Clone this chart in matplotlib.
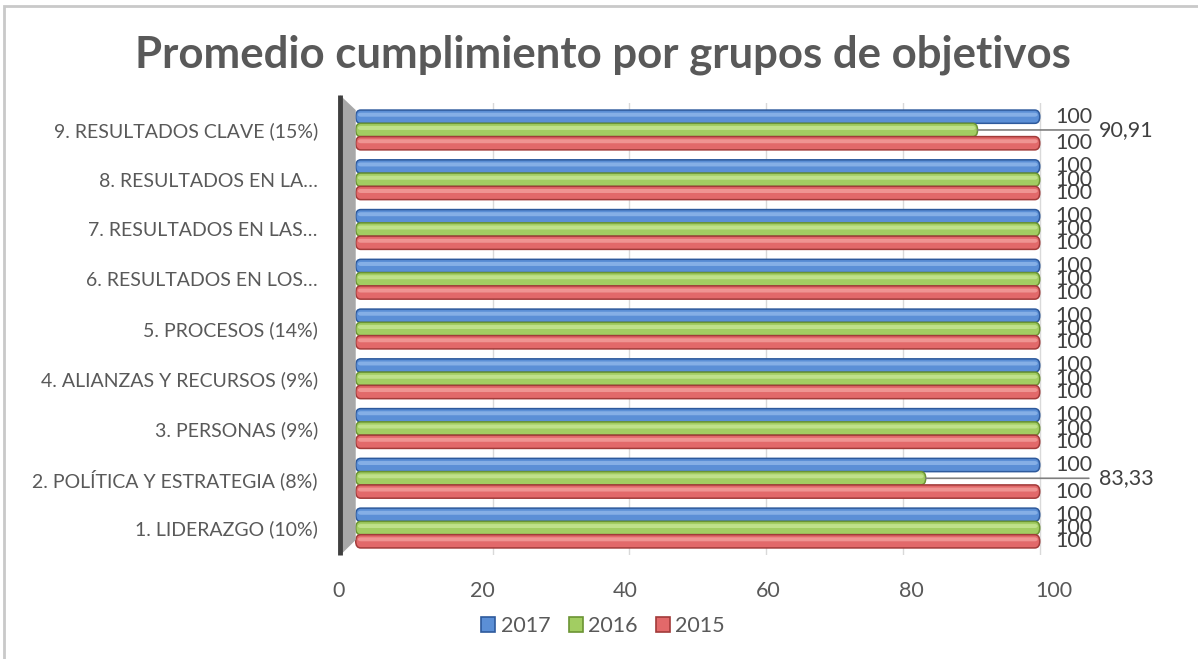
import matplotlib
matplotlib.use("Agg")
import matplotlib.pyplot as plt
from matplotlib.patches import FancyBboxPatch, Polygon, Rectangle
import numpy as np

plt.rcParams['font.family'] = ['Lato', 'DejaVu Sans']

categories = [
    "1. LIDERAZGO (10%)",
    "2. POLÍTICA Y ESTRATEGIA (8%)",
    "3. PERSONAS (9%)",
    "4. ALIANZAS Y RECURSOS (9%)",
    "5. PROCESOS (14%)",
    "6. RESULTADOS EN LOS…",
    "7. RESULTADOS EN LAS…",
    "8. RESULTADOS EN LA…",
    "9. RESULTADOS CLAVE (15%)",
]
series_names = ["2017", "2016", "2015"]
vals_2017 = [100, 100, 100, 100, 100, 100, 100, 100, 100]
vals_2016 = [100, 83.33, 100, 100, 100, 100, 100, 100, 90.91]
vals_2015 = [100, 100, 100, 100, 100, 100, 100, 100, 100]
x_ticks = [0, 20, 40, 60, 80, 100]

base_colors = ["#5b8fd6", "#a2cd62", "#e2696a"]
edge_colors = ["#2e5a9c", "#6b9433", "#a23b3a"]
light_colors = ["#85afe6", "#bfe08a", "#ef9492"]
text_col = "#595959"

W, H = 1198, 659
fig = plt.figure(figsize=(W / 100, H / 100), dpi=100)

# chart border (only top/left visible in reference)
fig.patches.append(Rectangle((4 / W, -0.1), 1.2, 1.1 - 5.5 / H, transform=fig.transFigure,
                             fill=False, edgecolor="#c9c9c9", lw=2))

ax_l, ax_r = 340 / W, 1050 / W
ax_b, ax_t = 1 - 555.4 / H, 1 - 102.6 / H
ax = fig.add_axes([ax_l, ax_b, ax_r - ax_l, ax_t - ax_b])
xmin, xmax = -2.3, 101.5
ymin, ymax = -0.55, 8.55
ax.set_xlim(xmin, xmax)
ax.set_ylim(ymin, ymax)

y = np.arange(len(categories))
bh = 0.2667
offsets = [bh, 0, -bh]
data = [vals_2017, vals_2016, vals_2015]

# gridlines
for t in x_ticks[1:]:
    ax.axvline(t, color="#d9d9d9", lw=1, zorder=0)

# rounded "cylinder" bars
r = 0.72
aspect = (bh / 2) / r
for vals, off, bc, ec, lc in zip(data, offsets, base_colors, edge_colors, light_colors):
    bars = ax.barh(y + off, vals, height=bh, color=bc)
    for rect in bars:
        rect.set_visible(False)
        x0, y0 = rect.get_x(), rect.get_y()
        w, h = rect.get_width(), rect.get_height()
        ax.add_patch(FancyBboxPatch((x0, y0), w, h,
                                    boxstyle=f"round,pad=0,rounding_size={r}",
                                    mutation_aspect=aspect, facecolor=bc,
                                    edgecolor=ec, lw=1.1, zorder=2))
        hh = h * 0.3
        ax.add_patch(FancyBboxPatch((x0 + 0.3, y0 + h * 0.5), w - 0.6, hh,
                                    boxstyle=f"round,pad=0,rounding_size={r * 0.6}",
                                    mutation_aspect=(hh / 2) / (r * 0.6),
                                    facecolor=lc, edgecolor="none", zorder=3))

# side wall
wall = Polygon([(xmin, -0.55), (xmin, 8.70), (0, 8.40), (0, -0.24)], closed=True,
               facecolor="#a8a8a8", edgecolor="none", clip_on=False, zorder=4)
ax.add_patch(wall)
ax.plot([xmin, xmin], [-0.55, 8.70], color="#3f3f3f", lw=3.5, clip_on=False, zorder=5,
        solid_capstyle="butt")

# data labels
for vals, off in zip(data, offsets):
    for yi, v in zip(y, vals):
        lab = f"{v:g}".replace(".", ",")
        if v < 100:
            ax.annotate(lab, xy=(v, yi + off), xytext=(108.6, yi + off), textcoords="data",
                        va="center", ha="left", fontsize=15.5, color="#404040",
                        annotation_clip=False,
                        arrowprops=dict(arrowstyle="-", color="#7f7f7f", lw=1.2,
                                        shrinkA=5, shrinkB=0))
        else:
            ax.annotate(lab, xy=(v, yi + off), xytext=(11, 0), textcoords="offset points",
                        va="center", ha="left", fontsize=15.5, color="#404040",
                        annotation_clip=False)

ax.set_yticks(y)
ax.set_yticklabels(categories, fontsize=14, color=text_col)
ax.tick_params(axis="y", length=0, pad=16)
ax.set_xticks([])
for s in ax.spines.values():
    s.set_visible(False)
ax.patch.set_alpha(0)

# value axis labels (perspective front edge)
tax = fig.add_axes([339 / W, 1 - 578 / H, 715 / W, 0.0001])
tax.set_xlim(0, 100)
tax.set_xticks(x_ticks)
tax.set_xticklabels([str(t) for t in x_ticks], fontsize=15.5, color=text_col)
tax.tick_params(axis="x", length=0, pad=2)
tax.set_yticks([])
for s in tax.spines.values():
    s.set_visible(False)
tax.patch.set_alpha(0)

fig.text(603 / W, 1 - 55 / H, "Promedio cumplimiento por grupos de objetivos",
         ha="center", va="center", fontsize=31.5, fontweight="bold", color=text_col)

handles = [Rectangle((0, 0), 1, 1, facecolor=bc, edgecolor=ec, lw=1.2)
           for bc, ec in zip(base_colors, edge_colors)]
fig.legend(handles, series_names, loc="center", bbox_to_anchor=(603 / W, 1 - 626 / H),
           ncol=3, frameon=False, fontsize=15.5, labelcolor=text_col,
           handlelength=0.65, handleheight=0.65, handletextpad=0.25, columnspacing=0.85)

fig.savefig("out.png", dpi=100)
